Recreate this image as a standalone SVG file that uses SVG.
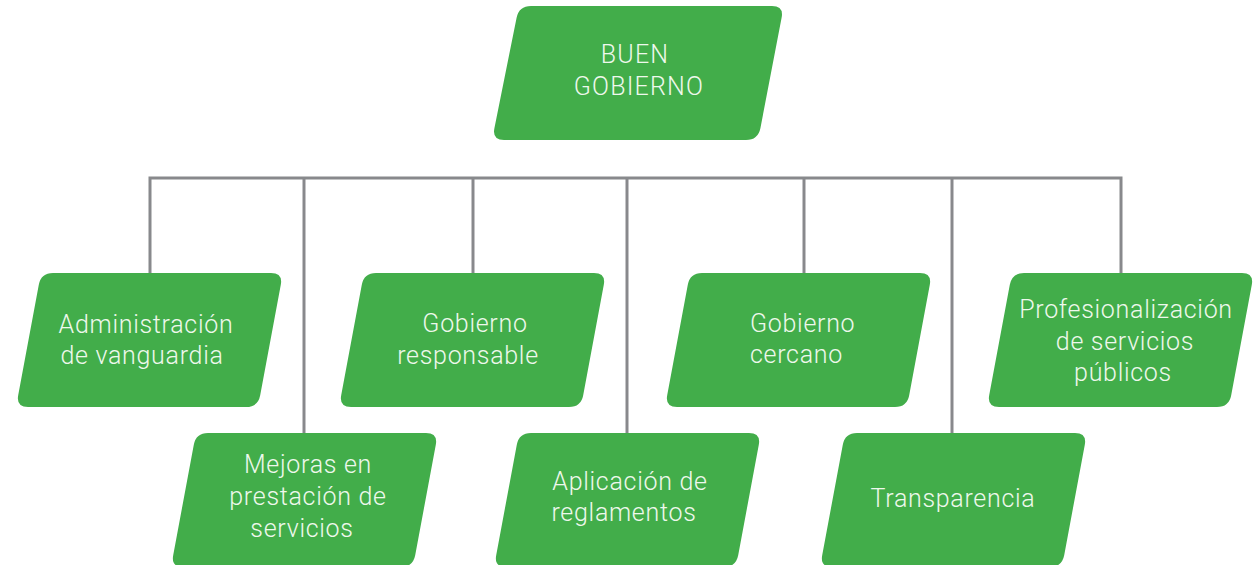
<svg xmlns="http://www.w3.org/2000/svg" width="1256" height="565" viewBox="0 0 1256 565">
  <style>
    .box { fill: #42ad4a; }
    .lbl { font-family: Roboto, "Liberation Sans", sans-serif; font-weight: 300; font-size: 25px; letter-spacing: 0.7px; fill: #eef8ec; text-anchor: middle; }
    .lbl.start { text-anchor: start; }
    .lbl.top { letter-spacing: 1.2px; }
    .conn { fill: none; stroke: #88898c; stroke-width: 3; stroke-linejoin: miter; }
  </style>
  <defs>
    <path id="para" d="M37,0 L255,0 Q267,0 264.8,11.8 L244.2,122.2 Q242,134 230,134 L12,134 Q0,134 2.2,122.2 L22.8,11.8 Q25,0 37,0 Z"/>
  </defs>
  <rect width="1256" height="565" fill="#ffffff"/>

  <g id="connectors">
    <path class="conn" d="M150,273 V178 H1121 V273"/>
    <path class="conn" d="M304,178 V433"/>
    <path class="conn" d="M473,178 V273"/>
    <path class="conn" d="M627,178 V433"/>
    <path class="conn" d="M804,178 V273"/>
    <path class="conn" d="M952,178 V433"/>
  </g>

  <g id="node-buen-gobierno">
    <path class="box" d="M531,6 L772,6 Q784,6 781.6,17.8 L760.4,128.2 Q758,140 746,140 L504,140 Q492,140 494.4,128.2 L516.6,17.8 Q519,6 531,6 Z"/>
    <text class="lbl top" x="635" y="63">BUEN</text>
    <text class="lbl top" x="639" y="95">GOBIERNO</text>
  </g>

  <g id="node-administracion">
    <use href="#para" class="box" x="16" y="273"/>
    <text class="lbl" x="146" y="333">Administración</text>
    <text class="lbl" x="142" y="364">de vanguardia</text>
  </g>

  <g id="node-gobierno-responsable">
    <use href="#para" class="box" x="339" y="273"/>
    <text class="lbl" x="475" y="332">Gobierno</text>
    <text class="lbl" x="468" y="364">responsable</text>
  </g>

  <g id="node-gobierno-cercano">
    <use href="#para" class="box" x="665" y="273"/>
    <text class="lbl start" x="750" y="332">Gobierno</text>
    <text class="lbl start" x="750" y="363">cercano</text>
  </g>

  <g id="node-profesionalizacion">
    <use href="#para" class="box" x="987" y="273"/>
    <text class="lbl" x="1126" y="318">Profesionalización</text>
    <text class="lbl" x="1125" y="350">de servicios</text>
    <text class="lbl" x="1123" y="381">públicos</text>
  </g>

  <g id="node-mejoras">
    <use href="#para" class="box" x="171" y="433"/>
    <text class="lbl" x="308" y="473">Mejoras en</text>
    <text class="lbl" x="308" y="505">prestación de</text>
    <text class="lbl" x="302" y="537">servicios</text>
  </g>

  <g id="node-aplicacion">
    <use href="#para" class="box" x="494" y="433"/>
    <text class="lbl" x="630" y="490">Aplicación de</text>
    <text class="lbl" x="624" y="521">reglamentos</text>
  </g>

  <g id="node-transparencia">
    <use href="#para" class="box" x="820" y="433"/>
    <text class="lbl" x="953" y="507">Transparencia</text>
  </g>
</svg>
